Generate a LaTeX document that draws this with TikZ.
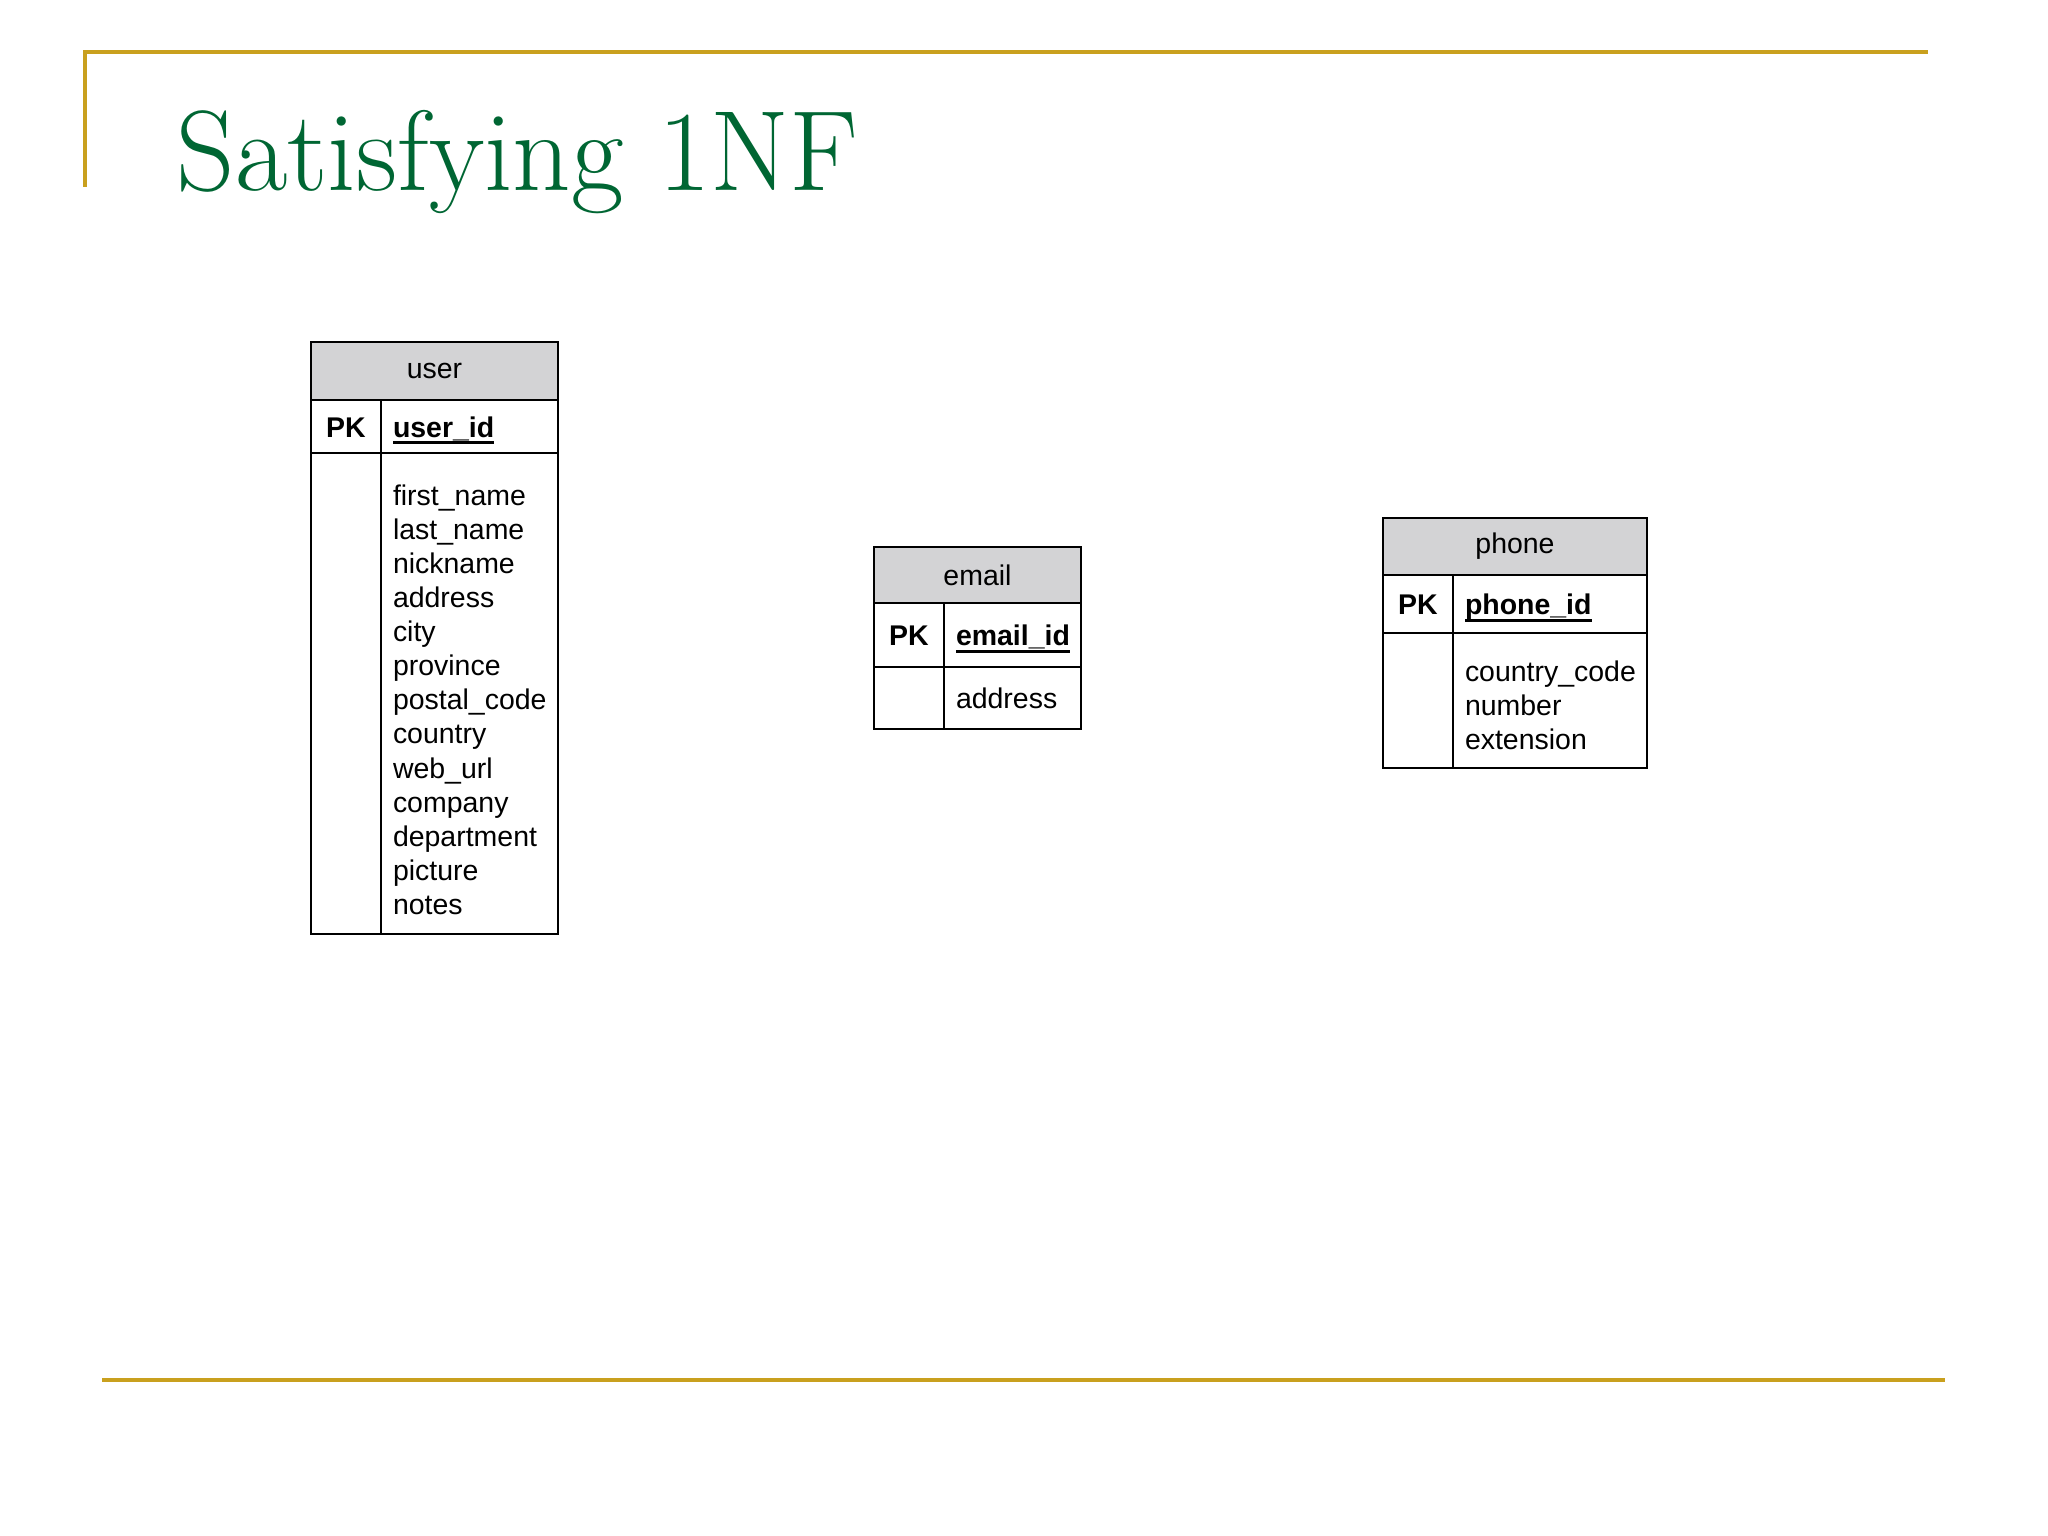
\documentclass[tikz,border=0pt]{standalone}
\usepackage{fontspec}
\newfontfamily\tablefont{Liberation Sans}
\usetikzlibrary{positioning}
\definecolor{slidegold}{RGB}{201,160,30}
\definecolor{titlegreen}{RGB}{0,102,51}
\definecolor{headgray}{RGB}{211,211,213}
% bold key name with a heavy underline
\newcommand{\keyname}[1]{\setbox0\hbox{\textbf{#1}}\rlap{\vrule height -1.1pt depth 1.9pt width \wd0}\box0}
\tikzset{
  tabframe/.style={draw=black, line width=0.75pt, inner ysep=0pt, outer sep=0pt, anchor=north west,
    font=\tablefont\fontsize{8.1}{9.7}\selectfont},
  headcell/.style={tabframe, fill=headgray, align=center},
  keycell/.style={tabframe, inner xsep=0pt, minimum width=0.70cm, align=center},
  namecell/.style={tabframe, inner xsep=0.12cm, align=left, text width=#1},
  keyrow/.style={text height=6.2pt, text depth=0pt},
  goldrule/.style={slidegold, line width=1.2pt}
}
\begin{document}
\begin{tikzpicture}
\useasboundingbox (0,0) rectangle (20.48,-15.36);
% slide frame
\draw[goldrule] (0.85,-1.87) -- (0.85,-0.52) -- (19.28,-0.52);
\draw[goldrule] (1.02,-13.80) -- (19.45,-13.80);
\node[anchor=base west, inner sep=0pt, text=titlegreen, font=\fontsize{32.5}{38}\selectfont] (title) at (1.76,-1.91) {Satisfying 1NF};
% user table
\node[headcell, minimum width=2.47cm, minimum height=0.58cm] (userhead) at (3.11,-3.42) {user};
\node[keycell, keyrow, minimum height=0.53cm] (userpk) at (userhead.south west) {\textbf{PK}};
\node[namecell=1.53cm, keyrow, minimum height=0.53cm] (userid) at (userpk.north east) {\keyname{user\_id}};
\node[keycell, minimum height=4.81cm] (userkey) at (userpk.south west) {};
\node[namecell=1.53cm, minimum height=4.81cm] (userattr) at (userid.south west)
  {\rule{0pt}{9.4pt}first\_name\\last\_name\\nickname\\address\\city\\province\\postal\_code\\country\\web\_url\\company\\department\\picture\\notes};
% email table
\node[headcell, minimum width=2.07cm, minimum height=0.56cm] (emailhead) at (8.74,-5.47) {email};
\node[keycell, keyrow, minimum height=0.64cm] (emailpk) at (emailhead.south west) {\textbf{PK}};
\node[namecell=1.13cm, keyrow, minimum height=0.64cm] (emailid) at (emailpk.north east) {\keyname{email\_id}};
\node[keycell, minimum height=0.62cm] (emailkey) at (emailpk.south west) {};
\node[namecell=1.13cm, minimum height=0.62cm] (emailattr) at (emailid.south west) {address};
% phone table
\node[headcell, minimum width=2.64cm, minimum height=0.57cm] (phonehead) at (13.83,-5.18) {phone};
\node[keycell, keyrow, minimum height=0.58cm] (phonepk) at (phonehead.south west) {\textbf{PK}};
\node[namecell=1.70cm, keyrow, minimum height=0.58cm] (phoneid) at (phonepk.north east) {\keyname{phone\_id}};
\node[keycell, minimum height=1.35cm] (phonekey) at (phonepk.south west) {};
\node[namecell=1.70cm, minimum height=1.35cm] (phoneattr) at (phoneid.south west) {\rule{0pt}{8.8pt}country\_code\\number\\extension};
\end{tikzpicture}
\end{document}
